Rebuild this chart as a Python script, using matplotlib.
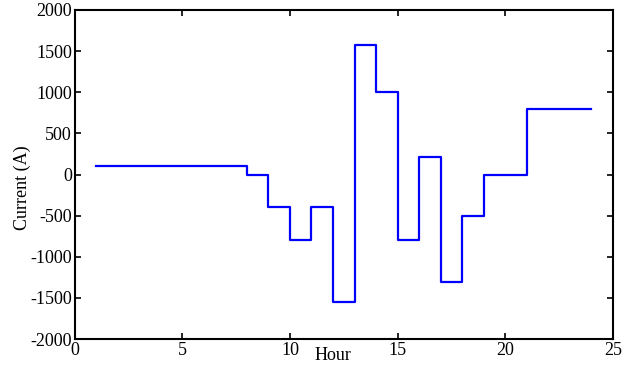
import matplotlib
matplotlib.use("Agg")
import matplotlib.pyplot as plt

# часы и ток (A), ступенчато: значение держится до следующего часа
hours = [1, 2, 3, 4, 5, 6, 7, 8, 9, 10, 11, 12, 13, 14, 15, 16, 17, 18, 19, 20, 21, 22, 23, 24]
current = [100, 100, 100, 100, 100, 100, 100, 0, -400, -800, -400, -1550,
           1570, 1000, -800, 210, -1310, -510, 0, 0, 800, 800, 800, 800]

x_ticks = [0, 5, 10, 15, 20, 25]
y_ticks = [-2000, -1500, -1000, -500, 0, 500, 1000, 1500, 2000]

plt.rcParams['font.family'] = ['Liberation Serif', 'DejaVu Serif']
plt.rcParams['axes.unicode_minus'] = False

fig = plt.figure(figsize=(6.39, 3.67), dpi=100)
ax = fig.add_axes([0.117, 0.076, 0.842, 0.897])

ax.plot(hours, current, drawstyle='steps-post', color='#0000ff', linewidth=1.6)

ax.set_xlim(0, 25)
ax.set_ylim(-2000, 2000)
ax.set_xticks(x_ticks)
ax.set_yticks(y_ticks)
ax.tick_params(direction='in', length=4, width=1.2, top=True, right=True,
               labelsize=13, pad=2)
for s in ax.spines.values():
    s.set_linewidth(1.5)

ax.set_xlabel("Hour", fontsize=13)
ax.xaxis.set_label_coords(0.48, -0.025)
ax.xaxis.label.set_va('top')
ax.set_ylabel("Current (A)", fontsize=13)
ax.yaxis.set_label_coords(-0.098, 0.46)
ax.yaxis.label.set_va('center')

fig.savefig("out.png", dpi=100)
